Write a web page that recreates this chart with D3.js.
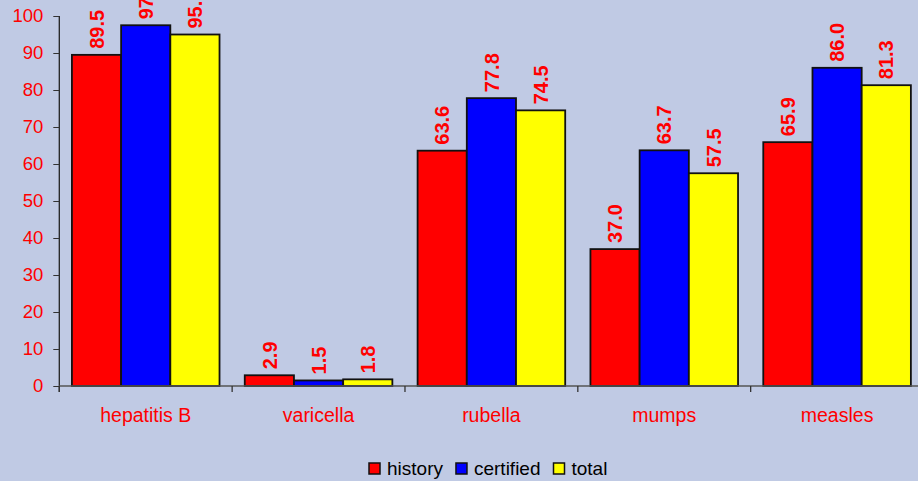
<!DOCTYPE html>
<html>
<head>
<meta charset="utf-8">
<script src="https://cdn.jsdelivr.net/npm/d3@7"></script>
<style>
  html, body { margin: 0; padding: 0; background: #c0cae4; }
  svg { display: block; font-family: Arial, "Liberation Sans", sans-serif; }
</style>
</head>
<body>
<div id="chart"></div>
<script>
// data
var categories = ['hepatitis B', 'varicella', 'rubella', 'mumps', 'measles'];
var seriesNames = ['history', 'certified', 'total'];
var seriesColors = ['#ff0000', '#0000ff', '#ffff00'];
var historyVals = [89.5, 2.9, 63.6, 37.0, 65.9];
var certifiedVals = [97.5, 1.5, 77.8, 63.7, 86.0];
var totalVals = [95.0, 1.8, 74.5, 57.5, 81.3];
var yTicks = [0, 10, 20, 30, 40, 50, 60, 70, 80, 90, 100];

var width = 918,
    height = 481;

var values = [historyVals, certifiedVals, totalVals];

// plot runs a bit past the right edge, like the original
var x0 = d3.scaleBand()
    .domain(categories)
    .range([59.3, 923.5])
    .paddingInner(0.146)
    .paddingOuter(0.073);

var x1 = d3.scaleBand()
    .domain(seriesNames)
    .range([0, x0.bandwidth()]);

var y = d3.scaleLinear()
    .domain([0, 100])
    .range([386, 16]);

var svg = d3.select('#chart').append('svg')
    .attr('width', width)
    .attr('height', height);

svg.append('rect')
    .attr('width', width)
    .attr('height', height)
    .attr('fill', '#c0cae4');

// bars
var groups = svg.selectAll('g.group')
    .data(categories)
    .enter().append('g')
    .attr('class', 'group')
    .attr('transform', function (d) { return 'translate(' + x0(d) + ',0)'; });

groups.selectAll('rect')
    .data(function (d, i) {
      return seriesNames.map(function (s, j) {
        return { series: s, value: values[j][i], color: seriesColors[j] };
      });
    })
    .enter().append('rect')
    .attr('x', function (d) { return x1(d.series); })
    .attr('y', function (d) { return y(d.value); })
    .attr('width', x1.bandwidth())
    .attr('height', function (d) { return y(0) - y(d.value); })
    .attr('fill', function (d) { return d.color; })
    .attr('stroke', '#111')
    .attr('stroke-width', 1.8);

// value labels, rotated (the top ones run off the edge, as in the original)
groups.selectAll('text.val')
    .data(function (d, i) {
      return seriesNames.map(function (s, j) {
        return { series: s, value: values[j][i] };
      });
    })
    .enter().append('text')
    .attr('class', 'val')
    .attr('transform', function (d) {
      var cx = x1(d.series) + x1.bandwidth() / 2;
      return 'translate(' + cx + ',' + (y(d.value) - 6) + ') rotate(-90)';
    })
    .attr('dy', '0.36em')
    .attr('fill', '#ff0000')
    .attr('font-size', '20px')
    .attr('font-weight', 'bold')
    .text(function (d) { return d.value.toFixed(1); });

// y axis
var yAxis = svg.append('g')
    .attr('transform', 'translate(59.3,0)')
    .call(d3.axisLeft(y).tickValues(yTicks).tickSize(6).tickPadding(10));

yAxis.select('.domain').attr('d', 'M0,16V392');
yAxis.selectAll('line').attr('stroke', '#333');
yAxis.selectAll('path').attr('stroke', '#222').attr('stroke-width', 1.3);
yAxis.selectAll('text')
    .attr('fill', '#ff0000')
    .attr('font-size', '18.5px')
    .attr('font-family', 'Arial, "Liberation Sans", sans-serif');

// x axis line and category boundary ticks
var step = x0.step();
var bounds = d3.range(categories.length + 1).map(function (i) { return 59.3 + i * step; });

svg.append('line')
    .attr('x1', 59.3).attr('x2', width)
    .attr('y1', y(0)).attr('y2', y(0))
    .attr('stroke', '#555')
    .attr('stroke-width', 1.3);

svg.selectAll('line.xtick')
    .data(bounds)
    .enter().append('line')
    .attr('class', 'xtick')
    .attr('x1', function (d) { return d; })
    .attr('x2', function (d) { return d; })
    .attr('y1', y(0))
    .attr('y2', y(0) + 6)
    .attr('stroke', '#333')
    .attr('stroke-width', 1.3);

svg.selectAll('text.cat')
    .data(categories)
    .enter().append('text')
    .attr('class', 'cat')
    .attr('x', function (d) { return x0(d) + x0.bandwidth() / 2; })
    .attr('y', 422)
    .attr('text-anchor', 'middle')
    .attr('fill', '#ff0000')
    .attr('font-size', '19.5px')
    .text(function (d) { return d; });

// legend
var legend = svg.append('g')
    .attr('transform', 'translate(369,463)');

var lx = 0;
seriesNames.forEach(function (s, i) {
  var item = legend.append('g').attr('transform', 'translate(' + lx + ',0)');
  item.append('rect')
      .attr('width', 11)
      .attr('height', 11)
      .attr('fill', seriesColors[i])
      .attr('stroke', '#111')
      .attr('stroke-width', 1.5);
  var t = item.append('text')
      .attr('x', 18)
      .attr('y', 12)
      .attr('fill', '#000')
      .attr('font-size', '19px')
      .text(s);
  lx += 18 + t.node().getComputedTextLength() + 13;
});
</script>
</body>
</html>
